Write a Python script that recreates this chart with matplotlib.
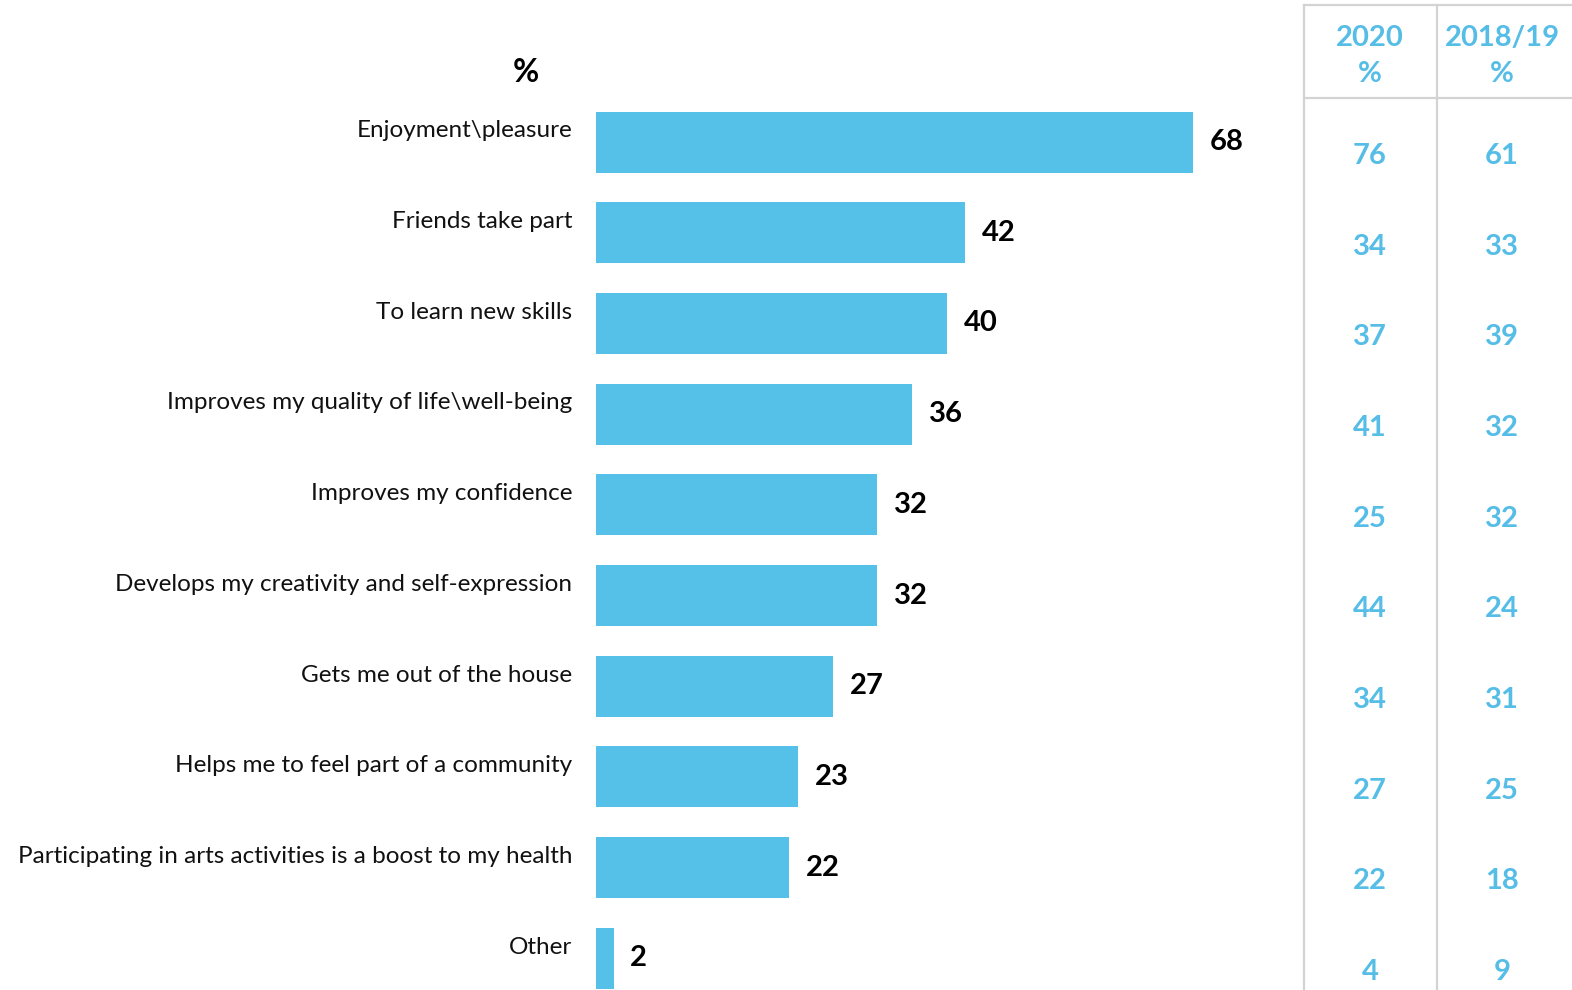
import matplotlib.pyplot as plt
from matplotlib.lines import Line2D
import matplotlib.transforms as mtransforms

plt.rcParams['font.family'] = ['Lato', 'DejaVu Sans']

categories = [
    "Enjoyment\\pleasure",
    "Friends take part",
    "To learn new skills",
    "Improves my quality of life\\well-being",
    "Improves my confidence",
    "Develops my creativity and self-expression",
    "Gets me out of the house",
    "Helps me to feel part of a community",
    "Participating in arts activities is a boost to my health",
    "Other",
]
values_2022 = [68, 42, 40, 36, 32, 32, 27, 23, 22, 2]
values_2020 = [76, 34, 37, 41, 25, 44, 34, 27, 22, 4]
values_2018 = [61, 33, 39, 32, 32, 24, 31, 25, 18, 9]
col_headers = ["2020\n%", "2018/19\n%"]

BAR = '#55C0E8'
TAB = '#55BDE6'
GRID = '#D3D3D3'

W, H = 1572, 990
fig = plt.figure(figsize=(W / 100, H / 100), dpi=100)

# bar axes: left edge at x=596px, spans full height
ax_left = 596 / W
ax_w = (1290 - 596) / W
ax = fig.add_axes([ax_left, 0, ax_w, 1])
px_per_unit = (1193 - 596) / 68
ax.set_xlim(0, (1290 - 596) / px_per_unit)
step = 90.7
ax.set_ylim((H - 142) / step, -142 / step)
ax.axis('off')

ypos = list(range(len(categories)))
ax.barh(ypos, values_2022, height=61 / step, color=BAR)

for y, cat, v in zip(ypos, categories, values_2022):
    ax.annotate(cat, (0, y), xytext=(-17, 8), textcoords='offset points',
                ha='right', va='center', fontsize=17.5, color='#111111')
    ax.annotate(str(v), (v, y), xytext=(12, 0), textcoords='offset points',
                ha='left', va='center', fontsize=21, fontweight='bold', color='black')

fig.text(526 / W, 1 - 72 / H, "%", ha='center', va='center',
         fontsize=23, fontweight='bold', color='black')

# comparison table on the right
col_x = [1370 / W, 1502 / W]
blend = mtransforms.blended_transform_factory(fig.transFigure, ax.transData)
for cx, head, col in zip(col_x, col_headers, [values_2020, values_2018]):
    fig.text(cx, 1 - 56 / H, head, ha='center', va='center', fontsize=21,
             fontweight='bold', color=TAB, linespacing=1.45)
    for y, v in zip(ypos, col):
        ax.annotate(str(v), (cx, y), xycoords=blend, xytext=(0, -10),
                    textcoords='offset points', ha='center', va='center',
                    fontsize=21, fontweight='bold', color=TAB)

for x in [1304, 1437]:
    fig.add_artist(Line2D([x / W, x / W], [1 - 5 / H, 0], color=GRID, lw=1.6))
for yy in [5, 98]:
    fig.add_artist(Line2D([1304 / W, 1], [1 - yy / H, 1 - yy / H], color=GRID, lw=1.6))

fig.savefig('out.png', dpi=100)
